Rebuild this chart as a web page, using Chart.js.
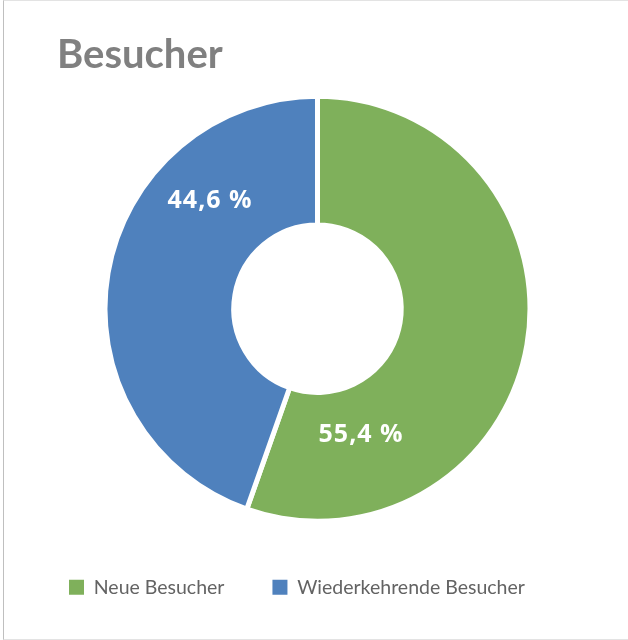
<!DOCTYPE html>
<html>
<head>
<meta charset="utf-8">
<script src="https://cdn.jsdelivr.net/npm/chart.js@4.4.1/dist/chart.umd.min.js"></script>
<style>
    html, body { margin: 0; padding: 0; background: #fff; }
    #wrap { position: relative; width: 628px; height: 640px; overflow: hidden; }
    #frame {
        position: absolute; left: 3px; top: 0; width: 660px; height: 640px;
        box-sizing: border-box; pointer-events: none;
        border-left: 1px solid #bfbfbf; border-top: 1px solid #e3e3e3; border-bottom: 1px solid #e3e3e3;
    }
</style>
</head>
<body>
<div id="wrap">
    <canvas id="chartBesucher" width="628" height="640"></canvas>
    <div id="frame"></div>
</div>
<script>
// Données du graphique
const categories = ['Neue Besucher', 'Wiederkehrende Besucher'];
const anteile = [55.4, 44.6];
const couleurs = ['#7FB05B', '#4F81BD'];

// Etiquettes blanches dans les segments (angle depuis le haut, rayon relatif)
const pluginEtiquettes = {
    id: 'etiquettes',
    afterDatasetsDraw(chart, args, opts) {
        const meta = chart.getDatasetMeta(0);
        const ctx = chart.ctx;
        ctx.save();
        ctx.font = 'bold 25px "Open Sans"';
        ctx.letterSpacing = '1px';
        ctx.fillStyle = '#ffffff';
        ctx.textAlign = 'center';
        ctx.textBaseline = 'middle';
        meta.data.forEach((arc, i) => {
            const a = (opts.angles[i] - 90) * Math.PI / 180;
            const r = arc.outerRadius * opts.radii[i];
            const texte = anteile[i].toFixed(1).replace('.', ',') + ' %';
            ctx.fillText(texte, arc.x + r * Math.cos(a), arc.y + r * Math.sin(a));
        });
        ctx.restore();
    }
};

// Décaler le titre vers la droite (le titre Chart.js n'a pas de marge horizontale)
const pluginTitre = {
    id: 'titreDecale',
    afterLayout(chart, args, opts) {
        if (chart.titleBlock) {
            chart.titleBlock.left += opts.decalage;
        }
    }
};

function dessiner() {
    const canvas = document.getElementById('chartBesucher');
    const labelsParDefaut = Chart.overrides.doughnut.plugins.legend.labels.generateLabels;

    new Chart(canvas, {
        type: 'doughnut',
        data: {
            labels: categories,
            datasets: [{
                data: anteile,
                backgroundColor: couleurs,
                borderColor: '#ffffff',
                borderWidth: 5,
                hoverOffset: 0
            }]
        },
        options: {
            responsive: false,
            animation: false,
            radius: 212.5,
            cutout: 86,
            layout: { padding: { left: 21, right: 14, top: 0, bottom: 33 } },
            plugins: {
                title: {
                    display: true,
                    text: 'Besucher',
                    align: 'start',
                    color: '#808080',
                    font: { family: 'Lato', size: 40, weight: 'bold', lineHeight: 1.2 },
                    padding: { top: 31, bottom: 9 }
                },
                legend: {
                    position: 'bottom',
                    align: 'start',
                    labels: {
                        boxWidth: 15,
                        boxHeight: 15,
                        padding: 48,
                        color: '#636363',
                        font: { family: 'Lato', size: 19.5 },
                        generateLabels: (chart) => labelsParDefaut(chart).map(l => ({ ...l, lineWidth: 0 }))
                    }
                },
                tooltip: { enabled: false },
                etiquettes: { angles: [161, 315], radii: [0.63, 0.715] },
                titreDecale: { decalage: 36 }
            }
        },
        plugins: [pluginEtiquettes, pluginTitre]
    });
}

Promise.all([
    document.fonts.load('bold 40px Lato'),
    document.fonts.load('20px Lato'),
    document.fonts.load('bold 25px "Open Sans"')
]).then(dessiner, dessiner);
</script>
</body>
</html>
